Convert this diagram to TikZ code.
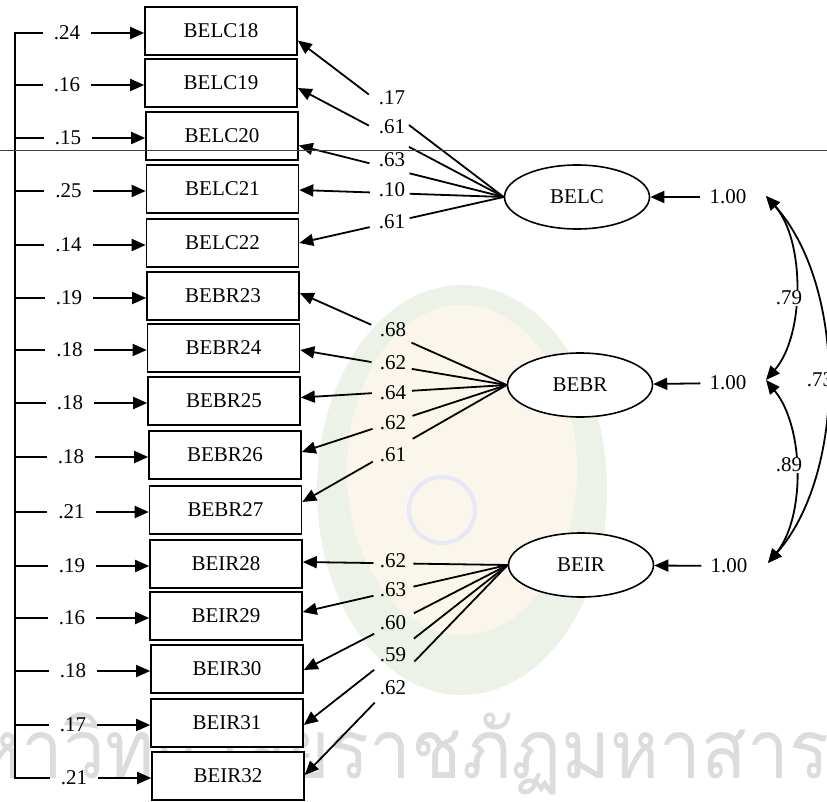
\documentclass[tikz,border=0pt]{standalone}
\usepackage{fontspec}
\setmainfont{Liberation Serif}
\newfontfamily\thaiwm[Script=Thai,FakeStretch=0.91]{Loma}
\usetikzlibrary{arrows.meta,calc,shapes.geometric}
\definecolor{wmgreen}{RGB}{237,242,232}
\definecolor{wmyellow}{RGB}{251,246,235}
\definecolor{wmblue}{RGB}{230,233,245}
\definecolor{wmtext}{RGB}{220,220,220}
\newcommand\loadline[2]{%
  \draw[con] (#1.west) -- ($(#1.west)!0.46!(#2)$);
  \draw[arr] ($(#1.west)!0.655!(#2)$) -- (#2);}
\begin{document}
\begin{tikzpicture}[x=1pt,y=-1pt,
  font=\fontsize{21}{25}\selectfont,
  obs/.style={draw,fill=white,line width=1.6pt,minimum width=152pt,minimum height=48pt,inner sep=0pt},
  lat/.style={draw,fill=white,ellipse,line width=1.6pt,minimum width=145pt,minimum height=64pt,inner sep=0pt},
  err/.style={inner xsep=11pt,inner ysep=1pt},
  lab/.style={inner sep=1pt},
  var/.style={inner xsep=9pt,inner ysep=1pt},
  cov/.style={inner sep=1pt,fill=white},
  con/.style={line width=1.8pt},
  arr/.style={line width=1.8pt,-{Triangle[length=14pt,width=12pt]}},
  darr/.style={line width=1.8pt,{Triangle[length=14pt,width=12pt]}-{Triangle[length=14pt,width=12pt]}},
]
\useasboundingbox (0,0) rectangle (827,802);
% faint watermark
\fill[wmgreen] (462,490) ellipse [x radius=145pt, y radius=205pt];
\fill[wmyellow] (462,470) ellipse [x radius=115pt, y radius=165pt];
\draw[wmblue,line width=4pt] (442,510) circle [radius=33pt];
\node[anchor=base west,text=wmtext,font=\thaiwm\fontsize{82}{82}\selectfont,inner sep=0pt] (wm) at (-77,778) {มหาวิทยาลัยราชภัฏมหาสารคาม};

% observed variables
\node[obs] (b18) at (221,31) {BELC18};
\node[obs] (b19) at (221,83) {BELC19};
\node[obs] (b20) at (222,136) {BELC20};
\node[obs] (b21) at (222.5,189) {BELC21};
\node[obs] (b22) at (222.5,243) {BELC22};
\node[obs] (b23) at (223,296) {BEBR23};
\node[obs] (b24) at (223.5,348) {BEBR24};
\node[obs] (b25) at (224,401) {BEBR25};
\node[obs] (b26) at (225,455) {BEBR26};
\node[obs] (b27) at (225.5,510) {BEBR27};
\node[obs] (b28) at (226,564) {BEIR28};
\node[obs] (b29) at (226,616) {BEIR29};
\node[obs] (b30) at (227,669) {BEIR30};
\node[obs] (b31) at (227,723) {BEIR31};
\node[obs] (b32) at (228,776) {BEIR32};

% error variances
\node[err] (e18) at (67,33) {.24};
\node[err] (e19) at (67,85) {.16};
\node[err] (e20) at (68,138) {.15};
\node[err] (e21) at (68.5,191) {.25};
\node[err] (e22) at (68.5,245) {.14};
\node[err] (e23) at (69,298) {.19};
\node[err] (e24) at (69.5,350) {.18};
\node[err] (e25) at (70,403) {.18};
\node[err] (e26) at (71,457) {.18};
\node[err] (e27) at (71.5,512) {.21};
\node[err] (e28) at (72,566) {.19};
\node[err] (e29) at (72,618) {.16};
\node[err] (e30) at (73,671) {.18};
\node[err] (e31) at (73,725) {.17};
\node[err] (e32) at (74,778) {.21};

\coordinate (sp) at (15,0);
\draw[con] (e18.west) -- (e18.west -| sp) -- (e32.west -| sp) -- (e32.west);
\foreach \i in {19,...,31} {\draw[con] (e\i.west) -- (e\i.west -| sp);}
\foreach \i in {18,...,32} {\draw[arr] (e\i.east) -- (e\i.east -| b\i.west);}

% latent variables
\node[lat] (BELC) at (577,197) {BELC};
\node[lat] (BEBR) at (580,385) {BEBR};
\node[lat] (BEIR) at (581,565) {BEIR};

% arrow tips on the boxes
\coordinate (p18) at ($(b18.east)+(0,9.5)$);
\coordinate (p19) at ($(b19.east)+(0,5)$);
\coordinate (p20) at ($(b20.east)+(0,9.5)$);
\coordinate (p21) at ($(b21.east)+(0,1)$);
\coordinate (p22) at ($(b22.east)+(0,0)$);
\coordinate (p23) at ($(b23.east)+(0,-3)$);
\coordinate (p24) at ($(b24.east)+(0,2)$);
\coordinate (p25) at ($(b25.east)+(0,-3.5)$);
\coordinate (p26) at ($(b26.east)+(0,-3)$);
\coordinate (p27) at ($(b27.east)+(0,-8)$);
\coordinate (p28) at ($(b28.east)+(0,-2)$);
\coordinate (p29) at ($(b29.east)+(0,-4)$);
\coordinate (p30) at ($(b30.east)+(0,1)$);
\coordinate (p31) at ($(b31.east)+(0,2)$);
\coordinate (p32) at ($(b32.east)+(0,-1)$);

\foreach \i in {18,...,22} {\loadline{BELC}{p\i}}
\foreach \i in {23,...,27} {\loadline{BEBR}{p\i}}
\foreach \i in {28,...,32} {\loadline{BEIR}{p\i}}

% loading labels
\node[lab] (l18) at (392,98) {.17};
\node[lab] (l19) at (392,127) {.61};
\node[lab] (l20) at (392,160) {.63};
\node[lab] (l21) at (392,190) {.10};
\node[lab] (l22) at (392,222) {.61};
\node[lab] (l23) at (393,330) {.68};
\node[lab] (l24) at (393,363) {.62};
\node[lab] (l25) at (393,393) {.64};
\node[lab] (l26) at (393,423) {.62};
\node[lab] (l27) at (393,455) {.61};
\node[lab] (l28) at (393,561) {.62};
\node[lab] (l29) at (393,590) {.63};
\node[lab] (l30) at (393,623) {.60};
\node[lab] (l31) at (393,655) {.59};
\node[lab] (l32) at (393,688) {.62};

% factor variances
\node[var] (v1) at (728,197) {1.00};
\node[var] (v2) at (728,383) {1.00};
\node[var] (v3) at (729,566) {1.00};
\draw[arr] (v1) -- (BELC);
\draw[arr] (v2) -- (BEBR);
\draw[arr] (v3) -- (BEIR);

% covariances
\coordinate (k1) at (766,196);
\coordinate (k2) at (766,380);
\coordinate (k3) at (768,563);
\draw[darr] (k1) .. controls (805,240) and (805,335) .. (k2);
\draw[darr] (k2) .. controls (805,428) and (805,518) .. (k3);
\draw[darr] (k1) .. controls (847,286) and (847,473) .. (k3);
\node[cov] (c79) at (789,298) {.79};
\node[cov] (c89) at (789,465) {.89};
\node[cov] (c73) at (820,380) {.73};

% scan line across the page
\draw[line width=0.6pt,black!75] (0,150) -- (827,150);
\end{tikzpicture}
\end{document}
